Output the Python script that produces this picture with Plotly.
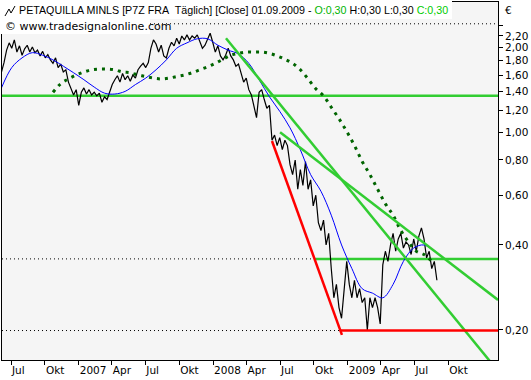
import plotly.graph_objects as go
import pandas as pd

# ---------------- data ----------------
first_week = "2006-06-05"
n_weeks = 170

close = [
    1.64, 1.77, 1.96, 2.08, 1.99, 2.13, 1.93, 2.03, 1.88, 1.98,
    2.04, 1.93, 2.01, 1.92, 1.96, 1.87, 1.94, 1.84, 1.89, 1.81,
    1.76, 1.84, 1.70, 1.75, 1.64, 1.67, 1.51, 1.44, 1.36, 1.42,
    1.25, 1.39, 1.44, 1.37, 1.42, 1.36, 1.39, 1.35, 1.38, 1.28,
    1.34, 1.31, 1.39, 1.48, 1.54, 1.59, 1.51, 1.62, 1.54, 1.59,
    1.52, 1.60, 1.56, 1.67, 1.72, 1.76, 1.70, 1.77, 1.99, 2.13,
    2.06, 1.93, 2.04, 1.87, 1.84, 1.99, 2.09, 2.03, 2.16, 2.06,
    2.20, 2.13, 2.22, 2.13, 2.20, 2.16, 2.22, 2.09, 1.99, 2.04,
    2.13, 2.25, 2.09, 1.93, 2.03, 1.87, 1.81, 1.88, 1.99, 1.87,
    1.81, 1.72, 1.75, 1.62, 1.51, 1.56, 1.42, 1.36, 1.22, 1.13,
    1.39, 1.42, 1.31, 1.22, 1.25, 0.94, 0.98, 0.90, 0.96, 0.87,
    0.94, 0.90, 0.77, 0.71, 0.80, 0.63, 0.74, 0.65, 0.79, 0.63,
    0.68, 0.55, 0.60, 0.48, 0.45, 0.49, 0.40, 0.44, 0.33, 0.26,
    0.29, 0.24, 0.22, 0.28, 0.35, 0.29, 0.26, 0.30, 0.26, 0.28,
    0.25, 0.26, 0.20, 0.26, 0.24, 0.26, 0.24, 0.21, 0.34, 0.38,
    0.35, 0.40, 0.44, 0.38, 0.42, 0.44, 0.39, 0.41, 0.40, 0.37,
    0.42, 0.38, 0.43, 0.46, 0.42, 0.36, 0.38, 0.33, 0.35, 0.30,
]

# moving average (blue), every 4th week
ma_values = [
    1.44, 1.70, 1.84, 1.92, 1.88, 1.81, 1.72, 1.63, 1.54, 1.45,
    1.38, 1.37, 1.40, 1.48, 1.56, 1.67, 1.81, 1.99, 2.08, 2.15,
    2.15, 2.04, 1.96, 1.90, 1.76, 1.54, 1.34, 1.19, 1.04, 0.87,
    0.71, 0.62, 0.51, 0.40, 0.33, 0.28, 0.27, 0.26, 0.29, 0.35,
    0.39, 0.40, 0.38,
]

# dotted dark green curve, every 3rd week starting at week 20
arc_values = [
    1.39, 1.49, 1.55, 1.60, 1.64, 1.67, 1.68, 1.68, 1.67, 1.64,
    1.63, 1.60, 1.58, 1.56, 1.55, 1.56, 1.58, 1.60, 1.63, 1.67,
    1.71, 1.76, 1.82, 1.88, 1.91, 1.93, 1.93, 1.93, 1.91, 1.87,
    1.82, 1.76, 1.67, 1.55, 1.43, 1.35, 1.23, 1.12, 1.01, 0.90,
    0.79, 0.71, 0.63, 0.56, 0.51, 0.45, 0.41, 0.38, 0.37, 0.35,
]

# drawing-tool lines
x_start, x_end = "2006-06-06 12:00", "2010-02-13"
red_trend_dates = ["2008-06-09", "2008-12-16"]
red_trend_vals = [0.934, 0.192]
red_support_dates = ["2008-12-11", x_end]
red_support_vals = [0.199, 0.199]
green_a_dates = ["2008-02-05", x_end]
green_a_vals = [2.16, 0.143]
green_b_dates = ["2008-07-01", x_end]
green_b_vals = [1.003, 0.2555]
green_h1_dates = [x_start, x_end]
green_h1_vals = [1.35, 1.35]
green_h2_dates = ["2008-10-04", x_end]
green_h2_vals = [0.357, 0.357]
dotted_lines = [
    ([x_start, "2008-10-04"], [0.357, 0.357]),
    ([x_start, "2008-12-11"], [0.199, 0.199]),
    ([x_start, x_end], [2.43, 2.43]),
]

x_tickvals = ["2006-07-01", "2006-10-01", "2007-01-01", "2007-04-01", "2007-07-01",
              "2007-10-01", "2008-01-01", "2008-04-01", "2008-07-01", "2008-10-01",
              "2009-01-01", "2009-04-01", "2009-07-01", "2009-10-01"]
x_ticktext = ["Jul", "Okt", "2007", "Apr", "Jul", "Okt", "2008", "Apr", "Jul", "Okt",
              "2009", "Apr", "Jul", "Okt"]
y_tickvals = [0.2, 0.4, 0.6, 0.8, 1.0, 1.2, 1.4, 1.6, 1.8, 2.0, 2.2, 2.4]
y_ticktext = ["0,20", "0,40", "0,60", "0,80", "1,00", "1,20", "1,40", "1,60", "1,80",
              "2,00", "2,20", ""]

# ---------------- figure ----------------
weeks = pd.date_range(first_week, periods=n_weeks, freq="7D")
ma_dates = weeks[::4]
arc_dates = weeks[20::3]

FONT = "DejaVu Sans"
TFONT = "Liberation Sans"
GREEN = "rgb(50,205,50)"

fig = go.Figure()

for dx, dy in dotted_lines:
    fig.add_trace(go.Scatter(x=dx, y=dy, mode="lines",
                             line=dict(color="black", width=1, dash="1px,3px")))

fig.add_trace(go.Scatter(x=green_h1_dates, y=green_h1_vals, mode="lines",
                         line=dict(color=GREEN, width=2.5)))
fig.add_trace(go.Scatter(x=green_h2_dates, y=green_h2_vals, mode="lines",
                         line=dict(color=GREEN, width=2.5)))

fig.add_trace(go.Scatter(x=list(weeks), y=close, mode="lines",
                         line=dict(color="black", width=1.2)))
fig.add_trace(go.Scatter(x=list(ma_dates), y=ma_values, mode="lines",
                         line=dict(color="rgb(0,0,255)", width=1, shape="spline")))
fig.add_trace(go.Scatter(x=list(arc_dates), y=arc_values, mode="lines",
                         line=dict(color="rgb(0,100,0)", width=3, dash="3px,5px",
                                   shape="spline")))

fig.add_trace(go.Scatter(x=green_a_dates, y=green_a_vals, mode="lines",
                         line=dict(color=GREEN, width=2.5)))
fig.add_trace(go.Scatter(x=green_b_dates, y=green_b_vals, mode="lines",
                         line=dict(color=GREEN, width=2.5)))
fig.add_trace(go.Scatter(x=red_trend_dates, y=red_trend_vals, mode="lines",
                         line=dict(color="rgb(255,0,0)", width=2.5)))
fig.add_trace(go.Scatter(x=red_support_dates, y=red_support_vals, mode="lines",
                         line=dict(color="rgb(255,0,0)", width=2.5)))

W, H = 531, 380
ML, MR, MT, MB = 2, 33, 2, 20
PW, PH = W - ML - MR, H - MT - MB


def px(x):
    return (x - ML) / PW


def py(y):
    return (H - MB - y) / PH


shapes = [
    dict(type="rect", xref="paper", yref="paper", layer="above",
         x0=px(0), x1=px(452), y0=py(19), y1=py(0),
         fillcolor="white", line=dict(width=0)),
    dict(type="rect", xref="paper", yref="paper", layer="above",
         x0=px(0), x1=px(150), y0=py(34), y1=py(19),
         fillcolor="white", line=dict(width=0)),
    dict(type="path", xref="paper", yref="paper", layer="above",
         path=f"M {px(5)},{py(16)} L {px(9)},{py(9)} L {px(11)},{py(13)} L {px(15)},{py(6)}",
         line=dict(color="black", width=1)),
]

title_html = ('PETAQUILLA MINLS [P7Z FRA&nbsp; Täglich] [Close] 01.09.2009 - '
              '<span style="color:#00b400">O:0,30</span>'
              ' H:0,30 L:0,30 '
              '<span style="color:#00cc00">C:0,30</span>')

annotations = [
    dict(xref="paper", yref="paper", x=px(17), y=py(10), xanchor="left", yanchor="middle",
         text=title_html, showarrow=False, font=dict(family=TFONT, size=10.7, color="black")),
    dict(xref="paper", yref="paper", x=px(3), y=py(26), xanchor="left", yanchor="middle",
         text="© www.tradesignalonline.com", showarrow=False,
         font=dict(family=FONT, size=11, color="black")),
    dict(xref="paper", yref="paper", x=px(503), y=py(10), xanchor="left", yanchor="middle",
         text="€", showarrow=False, font=dict(family=FONT, size=10.5, color="black")),
]

fig.update_layout(
    width=W, height=H,
    margin=dict(l=ML, r=MR, t=MT, b=MB, pad=0),
    paper_bgcolor="white",
    plot_bgcolor="rgb(245,245,245)",
    showlegend=False,
    shapes=shapes,
    annotations=annotations,
    font=dict(family=FONT, size=10.5, color="black"),
    xaxis=dict(
        type="date", range=[x_start, x_end],
        tickvals=x_tickvals, ticktext=x_ticktext,
        ticks="outside", ticklen=4, tickcolor="black", tickwidth=1,
        ticklabelposition="outside right",
        showgrid=False, zeroline=False,
        showline=True, linecolor="black", linewidth=1, mirror=True,
        tickfont=dict(family=FONT, size=10.5, color="black"),
    ),
    yaxis=dict(
        type="log", side="right",
        range=[-0.8055, 0.4628],
        tickvals=y_tickvals, ticktext=y_ticktext,
        ticks="outside", ticklen=4, tickcolor="black", tickwidth=1,
        showgrid=False, zeroline=False,
        showline=True, linecolor="black", linewidth=1, mirror=True,
        tickfont=dict(family=FONT, size=10.5, color="black"),
    ),
)

fig.write_html("out.html",
               config={"displayModeBar": False},
               post_script="document.body.style.margin='0';document.body.style.overflow='hidden';")
